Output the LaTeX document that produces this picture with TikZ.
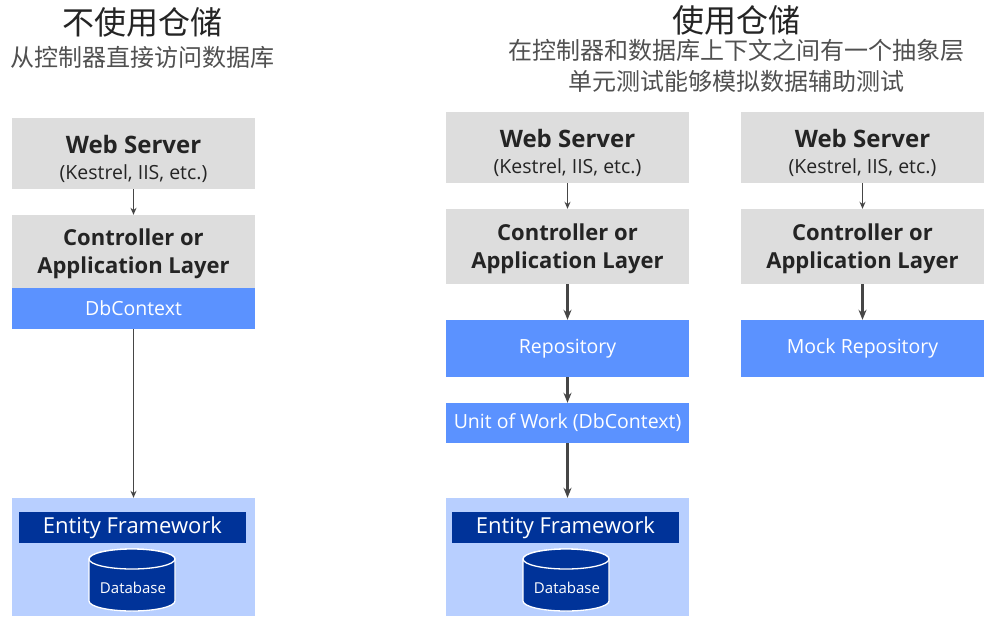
\documentclass[tikz,border=0pt]{standalone}
\usepackage{fontspec}
\setmainfont{Open Sans}
\newfontfamily\zhfont{Noto Sans CJK SC}
\usetikzlibrary{arrows.meta,positioning,calc}
\definecolor{layergray}{RGB}{221,221,221}
\definecolor{storeblue}{RGB}{91,146,255}
\definecolor{baseblue}{RGB}{184,207,255}
\definecolor{efblue}{RGB}{0,51,153}
\definecolor{textdark}{RGB}{36,36,36}
\definecolor{arrowgray}{RGB}{70,70,70}

\begin{document}
\begin{tikzpicture}[x=1pt, y=-1pt,
    layer/.style={fill=layergray, minimum width=243pt, inner sep=0pt, align=center, text=textdark},
    store/.style={fill=storeblue, minimum width=243pt, inner sep=0pt, text=white, font=\fontsize{19.5}{22}\selectfont},
    base/.style={fill=baseblue, minimum width=243pt, minimum height=118pt, inner sep=0pt},
    efbar/.style={fill=efblue, minimum width=227pt, minimum height=31pt, inner sep=0pt, text=white, font=\fontsize{22}{26}\selectfont},
    dbshape/.style={fill=efblue, draw=white, line width=1.3pt},
    heading/.style={text=textdark, font=\zhfont\fontsize{32}{36}\selectfont},
    subheading/.style={text=textdark!80, font=\zhfont\fontsize{24}{30}\selectfont},
    thinflow/.style={-{Stealth[length=7pt,width=6pt]}, line width=1.3pt, arrowgray},
    flow/.style={-{Stealth[length=10pt,width=8pt]}, line width=2.6pt, arrowgray}
]
\useasboundingbox (0,0) rectangle (984,616);

\node[heading] (t1) at (142,22) {不使用仓储};
\node[subheading] (s1) at (142,57) {从控制器直接访问数据库};
\node[heading] (t2) at (736,20) {使用仓储};
\node[subheading] (s2) at (736,50) {在控制器和数据库上下文之间有一个抽象层};
\node[subheading] (s3) at (736,81) {单元测试能够模拟数据辅助测试};

\node[layer, minimum height=71pt, font=\fontsize{19.5}{26}\selectfont] (web1) at (133.5,153.5) {\rule{0pt}{30pt}{\bfseries\fontsize{24}{26}\selectfont Web Server}\\(Kestrel, IIS, etc.)};
\node[layer, minimum height=73pt, font=\bfseries\fontsize{22}{28}\selectfont] (ctl1) at (133.5,251.5) {\rule{0pt}{21pt}Controller or\\Application Layer};
\node[store, minimum height=41pt] (dbc1) at (133.5,308.5) {DbContext};
\node[base] (base1) at (133.5,557) {};
\node[efbar] (efw1) at (132.5,527.5) {Entity Framework};
\filldraw[dbshape] (89,559) -- (89,601) arc[start angle=180, end angle=0, x radius=43, y radius=10] -- (175,559) arc[start angle=0, end angle=-180, x radius=43, y radius=10] -- cycle;
\draw[dbshape] (132,559) ellipse [x radius=43, y radius=10];
\node[text=white, font=\fontsize{15}{18}\selectfont] (db1) at (133,588) {Database};

\node[layer, minimum height=71pt, font=\fontsize{19.5}{26}\selectfont] (web2) at (567.5,147.5) {\rule{0pt}{30pt}{\bfseries\fontsize{24}{26}\selectfont Web Server}\\(Kestrel, IIS, etc.)};
\node[layer, minimum height=75pt, font=\bfseries\fontsize{22}{28}\selectfont] (ctl2) at (567.5,246.5) {\rule{0pt}{21pt}Controller or\\Application Layer};
\node[store, minimum height=57pt] (repo2) at (567.5,348.5) {Repository};
\node[store, minimum height=40pt] (uow2) at (567.5,423) {Unit of Work (DbContext)};
\node[base] (base2) at (567.5,557) {};
\node[efbar] (efw2) at (565.5,527.5) {Entity Framework};
\filldraw[dbshape] (523,559) -- (523,601) arc[start angle=180, end angle=0, x radius=43, y radius=10] -- (609,559) arc[start angle=0, end angle=-180, x radius=43, y radius=10] -- cycle;
\draw[dbshape] (566,559) ellipse [x radius=43, y radius=10];
\node[text=white, font=\fontsize{15}{18}\selectfont] (db2) at (567,588) {Database};

\node[layer, minimum height=71pt, font=\fontsize{19.5}{26}\selectfont] (web3) at (862.5,147.5) {\rule{0pt}{30pt}{\bfseries\fontsize{24}{26}\selectfont Web Server}\\(Kestrel, IIS, etc.)};
\node[layer, minimum height=75pt, font=\bfseries\fontsize{22}{28}\selectfont] (ctl3) at (862.5,246.5) {\rule{0pt}{21pt}Controller or\\Application Layer};
\node[store, minimum height=57pt] (mock3) at (862.5,348.5) {Mock Repository};

\draw[thinflow] (web1) -- (ctl1);
\draw[thinflow, line width=1.7pt] (dbc1) -- (base1);
\draw[thinflow] (web2) -- (ctl2);
\draw[flow] (ctl2) -- (repo2);
\draw[flow] (repo2) -- (uow2);
\draw[flow] (uow2) -- (base2);
\draw[thinflow] (web3) -- (ctl3);
\draw[flow] (ctl3) -- (mock3);
\end{tikzpicture}
\end{document}
